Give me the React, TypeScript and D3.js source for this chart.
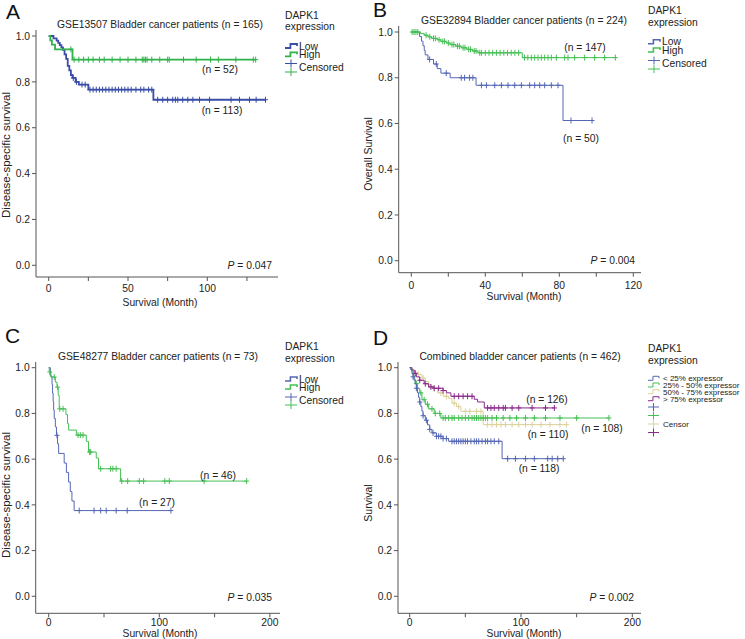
import React from 'react';
import * as d3 from 'd3';

type Step = [number, number];

// ---------- Panel A : GSE13507 ----------
const A_LOW_STEPS: Step[] = [[3, 0.99], [5, 0.98], [6, 0.97], [7, 0.96], [8, 0.95], [9, 0.94], [10, 0.92], [11, 0.9], [12, 0.87], [13, 0.85], [14, 0.83], [15, 0.817], [17, 0.8], [19, 0.788], [25, 0.766], [66, 0.722]];
const A_LOW_CENSOR = [15.5, 17.5, 21, 23, 26, 28, 30, 32, 34, 36, 38, 40, 42, 44, 46, 48, 50, 52, 55, 58, 60, 63, 65, 68.7, 71.9, 75, 78.2, 79.9, 81.4, 84.5, 87.7, 90.9, 95.1, 101.4, 115, 120.3, 126.6, 130.8, 136.7];
const A_HIGH_STEPS: Step[] = [[1, 0.981], [2, 0.962], [4, 0.942], [15, 0.897]];
const A_HIGH_CENSOR = [14, 16, 19, 22, 25, 28, 32, 35, 40, 45, 50, 55, 59, 60, 61, 62, 65, 70, 75, 76, 85, 93, 102, 107, 118, 129, 130.5];

// ---------- Panel B : GSE32894 ----------
const B_LOW_STEPS: Step[] = [[4.5, 0.98], [5.5, 0.96], [6.3, 0.94], [7, 0.92], [7.5, 0.9], [9, 0.88], [12, 0.86], [14, 0.84], [16, 0.82], [21, 0.8], [35, 0.767], [82, 0.613]];
const B_LOW_CENSOR = [9.9, 13.5, 18.9, 27, 28.8, 31.5, 33.3, 37.9, 40.6, 45.1, 48.7, 52.3, 55.9, 59.5, 64, 66.7, 69.4, 72.1, 75.7, 79.3, 86.3, 97.7];
const B_HIGH_STEPS: Step[] = [[5, 0.993], [7, 0.986], [9, 0.979], [11, 0.972], [14, 0.966], [16, 0.959], [19, 0.952], [21, 0.945], [24, 0.938], [27, 0.931], [30, 0.924], [33, 0.917], [36, 0.909], [60, 0.888]];
const B_HIGH_CENSOR = [0.5, 1.5, 2.5, 3.5, 8, 10, 12, 13, 15, 17, 18, 20, 22, 23, 25, 26, 28, 29, 31, 32, 34, 35, 37, 38, 40, 42, 44, 46, 48, 50, 52, 54, 56, 58, 61.2, 63, 64.9, 66.7, 68.5, 70.3, 72.1, 73.9, 75.7, 78.4, 82.9, 84.7, 88.3, 93.7, 99.1, 104.5, 110.3];

// ---------- Panel C : GSE48277 ----------
const C_LOW_STEPS: Step[] = [[1.5, 0.963], [3, 0.926], [3.5, 0.889], [4, 0.852], [4.5, 0.815], [5, 0.778], [6, 0.741], [7, 0.704], [8, 0.667], [9, 0.625], [14, 0.583], [16, 0.542], [18, 0.5], [19.5, 0.458], [21, 0.417], [23, 0.375]];
const C_LOW_CENSOR = [7.5, 27.6, 41, 47, 52, 61, 71, 110.5];
const C_HIGH_STEPS: Step[] = [[0.5, 0.981], [2, 0.959], [6, 0.937], [7.5, 0.915], [8.6, 0.879], [9.5, 0.82], [15.6, 0.795], [17, 0.756], [18, 0.727], [25, 0.705], [34, 0.678], [36, 0.631], [43, 0.605], [45, 0.558], [65, 0.504]];
const C_HIGH_CENSOR = [1, 5, 8, 10, 13, 26.5, 28.6, 31, 37, 38, 47, 56, 58, 61, 66, 71.4, 81.9, 85.8, 105, 109, 140.5, 179];

// ---------- Panel D : combined ----------
const D_Q1_STEPS: Step[] = [[1, 0.99], [2, 0.975], [3, 0.96], [4, 0.945], [5, 0.93], [6, 0.91], [7, 0.89], [8, 0.87], [9, 0.85], [10, 0.83], [11, 0.81], [12, 0.79], [14, 0.77], [16, 0.75], [18, 0.73], [20, 0.715], [24, 0.7], [30, 0.69], [35, 0.678], [83, 0.602]];
const D_Q1_CENSOR = [3, 6, 9, 12, 15, 18, 21, 24, 26, 28, 30, 33, 38, 40, 42, 44, 46, 48, 50, 52, 55, 58, 60, 62, 65, 68, 70, 73, 76, 80, 88, 95, 104, 112, 124, 128, 133, 138];
const D_Q2_STEPS: Step[] = [[2, 0.985], [3, 0.97], [4, 0.95], [5, 0.93], [7, 0.91], [9, 0.89], [11, 0.86], [14, 0.84], [17, 0.82], [22, 0.8], [28, 0.78]];
const D_Q2_CENSOR = [6, 10, 13, 16, 20, 23, 27, 30, 32, 35, 38, 40, 44, 47, 50, 53, 56, 58, 60, 62, 64, 66, 68, 70, 74, 78, 84, 90, 96, 104, 112, 122, 135, 150, 179];
const D_Q3_STEPS: Step[] = [[2, 0.99], [5, 0.98], [8, 0.97], [11, 0.955], [14, 0.94], [17, 0.925], [20, 0.91], [25, 0.89], [30, 0.875], [35, 0.865], [38, 0.845], [42, 0.83], [46, 0.809], [66, 0.751]];
const D_Q3_CENSOR = [8, 12, 17, 22, 28, 33, 40, 44, 50, 54, 60, 64, 70, 74, 78, 82, 86, 92, 98, 104, 110, 118, 126, 135, 141];
const D_Q4_STEPS: Step[] = [[2, 0.99], [4, 0.975], [6, 0.96], [9, 0.945], [13, 0.93], [17, 0.916], [22, 0.91], [30, 0.9], [33, 0.89], [37, 0.875], [58, 0.862], [61, 0.85], [67, 0.824]];
const D_Q4_CENSOR = [5, 9, 14, 19, 22, 26, 30, 40, 44, 48, 52, 56, 70, 73, 76, 80, 84, 86, 92, 98, 110, 122, 130];

// ---------- axis ticks ----------
const A_X_TICKS = [0, 25, 50, 75, 100, 125];
const A_X_LABELS = [0, 50, 100];
const B_X_TICKS = [0, 20, 40, 60, 80, 100, 120];
const B_X_LABELS = [0, 40, 80, 120];
const CD_X_TICKS = [0, 50, 100, 150, 200];
const CD_X_LABELS = [0, 100, 200];
const Y_TICKS = [0, 0.2, 0.4, 0.6, 0.8, 1.0];

const FONT = 'Liberation Sans, Arial, Helvetica, sans-serif';
const BLUE_A = '#3a4ea8';
const GREEN_A = '#2fb24a';
const BLUE = '#5567b4';
const GREEN = '#46bf55';
const BEIGE = '#ddd29c';
const PURPLE = '#8a2a8c';
const AXIS = '#555';

function stepValue(steps: Step[], t: number) {
  let s = 1;
  for (const [tt, v] of steps) {
    if (tt <= t) s = v;
    else break;
  }
  return s;
}

interface Curve { steps: Step[]; censor: number[]; color: string; width: number; }
interface Ann { text: string; x: number; y: number; }
interface PanelCfg {
  letter: string; lx: number; ly: number;
  title: string; tx: number; ty: number;
  ylabel: string; ylx: number; yly: number; ylfs: number;
  left: number; bottom: number; top: number; right: number;
  xd: [number, number]; xr: [number, number];
  yr: [number, number];
  xTicks: number[]; xLabels: number[];
  tickY: number; xlabelX: number; xlabelY: number;
  curves: Curve[];
  anns: Ann[];
  p: string; px: number; py: number;
}

const FS = 10.3;

function Panel({ c }: { c: PanelCfg }) {
  const x = d3.scaleLinear().domain(c.xd).range(c.xr);
  const y = d3.scaleLinear().domain([0, 1]).range(c.yr);
  const line = d3.line<[number, number]>().x(d => x(d[0])).y(d => y(d[1])).curve(d3.curveStepAfter);
  return (
    <g fontFamily={FONT}>
      <text x={c.lx} y={c.ly} fontSize={21} fill="#111">{c.letter}</text>
      <text x={c.tx} y={c.ty} fontSize={FS} textAnchor="middle" fill="#222">{c.title}</text>
      <line x1={c.left} x2={c.left} y1={c.top} y2={c.bottom} stroke={AXIS} strokeWidth={1} />
      <line x1={c.left} x2={c.right} y1={c.bottom} y2={c.bottom} stroke={AXIS} strokeWidth={1} />
      {Y_TICKS.map(t => (
        <g key={'y' + t}>
          <line x1={c.left - 4} x2={c.left} y1={y(t)} y2={y(t)} stroke={AXIS} />
          <text x={c.left - 6} y={y(t) + 3.7} fontSize={FS} textAnchor="end" fill="#222">{d3.format('.1f')(t)}</text>
        </g>
      ))}
      {c.xTicks.map(t => (
        <line key={'x' + t} x1={x(t)} x2={x(t)} y1={c.bottom} y2={c.bottom + 4} stroke={AXIS} />
      ))}
      {c.xLabels.map(t => (
        <text key={'xl' + t} x={x(t)} y={c.tickY} fontSize={FS} textAnchor="middle" fill="#222">{t}</text>
      ))}
      <text x={c.xlabelX} y={c.xlabelY} fontSize={FS} textAnchor="middle" fill="#222">Survival (Month)</text>
      <text transform={`translate(${c.ylx},${c.yly}) rotate(-90)`} fontSize={c.ylfs} textAnchor="middle" fill="#222">{c.ylabel}</text>
      {c.curves.map((cv, i) => {
        const end = Math.max(cv.censor[cv.censor.length - 1] || 0, cv.steps[cv.steps.length - 1][0]);
        const pts: [number, number][] = [[0, 1], ...cv.steps, [end, cv.steps[cv.steps.length - 1][1]]];
        return (
          <g key={i}>
            <path d={line(pts) || ''} fill="none" stroke={cv.color} strokeWidth={cv.width} />
            {cv.censor.map((t, j) => {
              const cx = x(t), cy = y(stepValue(cv.steps, t));
              return <path key={j} d={`M${cx},${cy - 3}V${cy + 3}M${cx - 2.5},${cy}H${cx + 2.5}`} stroke={cv.color} strokeWidth={1} />;
            })}
          </g>
        );
      })}
      {c.anns.map((a, i) => (
        <text key={'a' + i} x={a.x} y={a.y + 3.7} fontSize={FS} textAnchor="middle" fill="#222">{a.text}</text>
      ))}
      <text x={c.px} y={c.py + 3.7} fontSize={FS} textAnchor="end" fill="#222">
        <tspan fontStyle="italic">P</tspan> = {c.p}
      </text>
    </g>
  );
}

function stepSym(x: number, y: number, color: string, w: number, sw: number) {
  return <path d={`M${x},${y + 2}H${x + w * 0.45}V${y - 2}H${x + w}V${y}`} fill="none" stroke={color} strokeWidth={sw} />;
}
function crossSym(x: number, y: number, color: string, w: number) {
  return <path d={`M${x},${y}H${x + w}M${x + w / 2},${y - 4}V${y + 4}`} stroke={color} strokeWidth={1} />;
}

function Legend2({ x, ys, sw, blue, green }: { x: number; ys: number[]; sw: number; blue: string; green: string }) {
  // ys = absolute centres: DAPK1, expression, low, high, cross1, cross2, censored text
  const [d, e, lo, hi, c1, c2, ct] = ys;
  return (
    <g fontFamily={FONT} fontSize={FS} fill="#222">
      <text x={x} y={d + 3.7}>DAPK1</text>
      <text x={x} y={e + 3.7}>expression</text>
      {stepSym(x, lo, blue, 12, sw)}
      <text x={x + 14} y={lo + 3.7}>Low</text>
      {stepSym(x, hi, green, 12, sw)}
      <text x={x + 14} y={hi + 3.7}>High</text>
      {crossSym(x, c1, blue, 12)}
      {crossSym(x, c2, green, 12)}
      <text x={x + 14} y={ct + 3.7}>Censored</text>
    </g>
  );
}

const panels: PanelCfg[] = [
  {
    letter: 'A', lx: 6, ly: 18.5,
    title: 'GSE13507 Bladder cancer patients (n = 165)', tx: 160, ty: 27.5,
    ylabel: 'Disease-specific survival', ylx: 10, yly: 155, ylfs: 11.5,
    left: 36, bottom: 277, top: 30, right: 278,
    xd: [0, 100], xr: [48.7, 207.3], yr: [265.3, 36],
    xTicks: A_X_TICKS, xLabels: A_X_LABELS, tickY: 292, xlabelX: 160, xlabelY: 306,
    curves: [
      { steps: A_LOW_STEPS, censor: A_LOW_CENSOR, color: BLUE_A, width: 1.8 },
      { steps: A_HIGH_STEPS, censor: A_HIGH_CENSOR, color: GREEN_A, width: 1.8 },
    ],
    anns: [{ text: '(n = 52)', x: 220, y: 69 }, { text: '(n = 113)', x: 222, y: 110 }],
    p: '0.047', px: 272, py: 265,
  },
  {
    letter: 'B', lx: 373, ly: 16.5,
    title: 'GSE32894 Bladder cancer patients (n = 224)', tx: 524, ty: 23.5,
    ylabel: 'Overall Survival', ylx: 372, yly: 154, ylfs: 10.5,
    left: 398.7, bottom: 272.7, top: 26, right: 641,
    xd: [0, 40], xr: [411.3, 485.3], yr: [260.7, 32],
    xTicks: B_X_TICKS, xLabels: B_X_LABELS, tickY: 289, xlabelX: 524, xlabelY: 300,
    curves: [
      { steps: B_LOW_STEPS, censor: B_LOW_CENSOR, color: BLUE, width: 1 },
      { steps: B_HIGH_STEPS, censor: B_HIGH_CENSOR, color: GREEN, width: 1 },
    ],
    anns: [{ text: '(n = 147)', x: 585, y: 47.7 }, { text: '(n = 50)', x: 581, y: 138 }],
    p: '0.004', px: 635, py: 260,
  },
  {
    letter: 'C', lx: 5, ly: 343,
    title: 'GSE48277 Bladder cancer patients (n = 73)', tx: 158, ty: 359.5,
    ylabel: 'Disease-specific survival', ylx: 10, yly: 495, ylfs: 11.5,
    left: 35.7, bottom: 613.3, top: 362, right: 280,
    xd: [0, 100], xr: [48.7, 159.3], yr: [596.3, 367.7],
    xTicks: CD_X_TICKS, xLabels: CD_X_LABELS, tickY: 626, xlabelX: 160, xlabelY: 637,
    curves: [
      { steps: C_LOW_STEPS, censor: C_LOW_CENSOR, color: BLUE, width: 1 },
      { steps: C_HIGH_STEPS, censor: C_HIGH_CENSOR, color: GREEN, width: 1 },
    ],
    anns: [{ text: '(n = 46)', x: 218, y: 475 }, { text: '(n = 27)', x: 157, y: 502 }],
    p: '0.035', px: 272, py: 597,
  },
  {
    letter: 'D', lx: 373, ly: 345,
    title: 'Combined bladder cancer patients (n = 462)', tx: 520, ty: 359.5,
    ylabel: 'Survival', ylx: 372, yly: 503, ylfs: 10.5,
    left: 398, bottom: 613.3, top: 362, right: 641,
    xd: [0, 100], xr: [409.7, 521], yr: [596.3, 367.7],
    xTicks: CD_X_TICKS, xLabels: CD_X_LABELS, tickY: 626, xlabelX: 524, xlabelY: 637,
    curves: [
      { steps: D_Q3_STEPS, censor: D_Q3_CENSOR, color: BEIGE, width: 1 },
      { steps: D_Q2_STEPS, censor: D_Q2_CENSOR, color: GREEN, width: 1 },
      { steps: D_Q4_STEPS, censor: D_Q4_CENSOR, color: PURPLE, width: 1 },
      { steps: D_Q1_STEPS, censor: D_Q1_CENSOR, color: BLUE, width: 1 },
    ],
    anns: [
      { text: '(n = 126)', x: 547, y: 399 }, { text: '(n = 110)', x: 548, y: 434 },
      { text: '(n = 108)', x: 602, y: 428 }, { text: '(n = 118)', x: 539, y: 468 },
    ],
    p: '0.002', px: 634, py: 597,
  },
];

const D_LEGEND = ['< 25% expressor', '25% - 50% expressor', '50% - 75% expressor', '> 75% expressor'];
const D_COLORS = [BLUE, GREEN, BEIGE, PURPLE];

export default function App() {
  const dEntryY = [378.3, 385, 391.7, 398.7];
  const dCrossY = [407, 415.5, 424, 432.5];
  return (
    <svg width={745} height={639} style={{ position: 'absolute', left: 0, top: 0, background: '#fff' }}>
      <rect width={745} height={639} fill="#fff" />
      {panels.map(p => <Panel key={p.letter} c={p} />)}
      <Legend2 x={285} ys={[15, 26.7, 46, 54.3, 63.5, 72, 67.7]} sw={1.8} blue={BLUE_A} green={GREEN_A} />
      <Legend2 x={648} ys={[10, 22.7, 41.7, 50, 60.5, 69, 63.3]} sw={1.6} blue={BLUE} green={GREEN} />
      <Legend2 x={285} ys={[346, 358, 379, 387, 397, 405, 400]} sw={1.6} blue={BLUE} green={GREEN} />
      <g fontFamily={FONT} fill="#222">
        <text x={648} y={352} fontSize={FS}>DAPK1</text>
        <text x={648} y={364} fontSize={FS}>expression</text>
        {D_LEGEND.map((t, i) => (
          <g key={t}>
            {stepSym(648, dEntryY[i], D_COLORS[i], 11, 1)}
            <text x={663} y={dEntryY[i] + 2.9} fontSize={8}>{t}</text>
          </g>
        ))}
        {D_COLORS.map((col, i) => <g key={'c' + i}>{crossSym(648, dCrossY[i], col, 11)}</g>)}
        <text x={663} y={427} fontSize={8}>Censor</text>
      </g>
    </svg>
  );
}
